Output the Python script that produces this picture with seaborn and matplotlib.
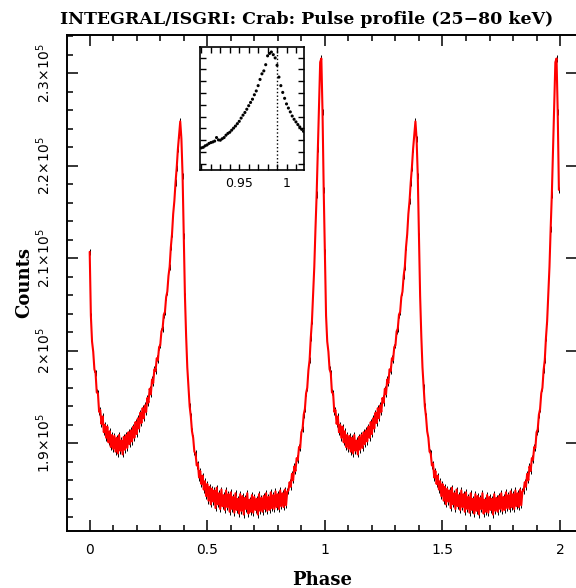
import numpy as np
import seaborn as sns
import matplotlib.pyplot as plt
from matplotlib.ticker import MultipleLocator, FixedLocator, FixedFormatter


# one pulse cycle, 200 phase bins of 0.005, in units of 1000 counts
counts_cycle_k = [
    210.7, 203.8, 201.0, 199.9, 198.0, 197.6, 195.5, 195.4, 193.4, 193.6,
    192.1, 192.9, 191.2, 192.0, 190.6, 191.8, 190.1, 191.3, 189.6, 190.9,
    189.4, 190.8, 189.1, 190.6, 188.9, 190.9, 189.2, 190.3, 188.8, 190.7,
    189.3, 190.9, 189.5, 191.2, 189.9, 191.4, 190.2, 191.8, 190.6, 192.3,
    191.0, 192.7, 191.6, 193.3, 192.2, 193.8, 192.7, 194.1, 193.4, 194.9,
    194.4, 195.9, 195.3, 196.9, 196.5, 198.0, 197.8, 199.2, 199.0, 200.4,
    200.6, 202.1, 202.4, 203.9, 204.2, 205.8, 206.4, 208.1, 209.1, 211.2,
    212.6, 214.8, 216.2, 218.2, 219.8, 221.8, 223.3, 224.8, 222.9, 218.9,
    212.4, 205.9, 201.6, 198.2, 196.1, 194.0, 192.9, 191.3, 190.6, 189.1,
    188.9, 187.6, 187.8, 186.3, 187.0, 185.6, 186.5, 185.0, 185.9, 184.3,
    185.6, 183.8, 185.3, 183.4, 185.1, 183.7, 184.9, 183.0, 185.2, 183.4,
    184.6, 182.9, 185.0, 183.2, 184.4, 182.8, 184.9, 183.1, 184.5, 182.6,
    184.7, 182.9, 184.2, 182.5, 184.6, 182.8, 184.0, 182.4, 184.5, 182.7,
    184.3, 182.3, 184.1, 182.9, 184.6, 182.4, 183.9, 182.6, 184.4, 182.5,
    184.2, 182.8, 184.0, 182.3, 184.5, 182.7, 184.1, 182.6, 184.3, 182.9,
    184.6, 182.7, 184.2, 182.8, 184.7, 183.0, 184.4, 182.9, 184.8, 183.1,
    184.5, 182.9, 184.9, 183.2, 184.6, 183.1, 185.0, 183.3, 184.8, 184.9,
    185.8, 185.3, 186.7, 186.0, 187.5, 187.0, 188.4, 188.2, 189.6, 189.5,
    191.2, 191.5, 193.1, 193.7, 195.4, 196.0, 197.9, 199.0, 201.4, 203.2,
    206.2, 209.1, 213.2, 216.9, 221.8, 227.1, 231.2, 231.6, 225.8, 217.4,
]
bin_width = 0.005
n_cycles = 2
count_err = 330.0

# zoom on the main peak (inset), units of 1000 counts
inset_phase = [
    0.910, 0.912, 0.914, 0.916, 0.918, 0.920, 0.922, 0.924, 0.926, 0.928,
    0.930, 0.932, 0.934, 0.936, 0.938, 0.940, 0.942, 0.944, 0.946, 0.948,
    0.950, 0.952, 0.954, 0.956, 0.958, 0.960, 0.962, 0.964, 0.966, 0.968,
    0.970, 0.972, 0.974, 0.976, 0.978, 0.980, 0.982, 0.984, 0.986, 0.988,
    0.990, 0.992, 0.994, 0.996, 0.998, 1.000, 1.002, 1.004, 1.006, 1.008,
    1.010, 1.012, 1.014, 1.016, 1.018,
]
inset_counts_k = [
    201.4, 201.6, 202.1, 202.4, 202.9, 203.2, 203.4, 203.7, 204.9, 204.1,
    204.0, 204.5, 204.9, 205.7, 206.3, 206.7, 207.4, 208.1, 208.8, 209.6,
    210.4, 211.5, 212.5, 213.4, 214.5, 215.7, 216.8, 217.9, 219.4, 220.7,
    222.5, 224.6, 226.5, 227.5, 229.6, 232.6, 233.4, 233.9, 233.0, 231.9,
    229.4, 225.4, 222.5, 220.2, 218.2, 216.3, 214.9, 213.6, 212.2, 211.1,
    210.2, 209.3, 208.5, 207.7, 207.0,
]
radio_peak_phase = 0.99

ytick_values = [190000, 200000, 210000, 220000, 230000]
ytick_labels = [r'$1.9\!\times\!10^5$', r'$2\!\times\!10^5$', r'$2.1\!\times\!10^5$',
                r'$2.2\!\times\!10^5$', r'$2.3\!\times\!10^5$']
xtick_values = [0, 0.5, 1, 1.5, 2]
xtick_labels = ['0', '0.5', '1', '1.5', '2']


sns.set_style('ticks')
plt.rcParams['font.family'] = ['DejaVu Sans']
plt.rcParams['text.color'] = 'black'
plt.rcParams['axes.labelcolor'] = 'black'
plt.rcParams['xtick.color'] = 'black'
plt.rcParams['ytick.color'] = 'black'

counts = np.tile(np.array(counts_cycle_k) * 1000, n_cycles)
phase = np.arange(len(counts)) * bin_width

fig = plt.figure(figsize=(5.76, 5.88), dpi=100)
ax = fig.add_axes([67 / 576, 1 - 531 / 588, (577 - 67) / 576, (531 - 35) / 588])

# black error bars under the red profile
ax.errorbar(phase, counts, yerr=count_err, fmt='none', ecolor='black',
            elinewidth=0.7, zorder=1)
sns.lineplot(x=phase, y=counts, color='red', linewidth=1.5, ax=ax, zorder=2)

ax.set_xlim(-0.0965, 2.072)
ax.set_ylim(180520, 234140)
ax.xaxis.set_major_locator(FixedLocator(xtick_values))
ax.xaxis.set_major_formatter(FixedFormatter(xtick_labels))
ax.xaxis.set_minor_locator(MultipleLocator(0.1))
ax.yaxis.set_major_locator(FixedLocator(ytick_values))
ax.yaxis.set_major_formatter(FixedFormatter(ytick_labels))
ax.yaxis.set_minor_locator(MultipleLocator(2000))

ax.tick_params(which='both', direction='in', top=True, right=True, width=1.1)
ax.tick_params(which='major', length=8)
ax.tick_params(which='minor', length=4)
ax.tick_params(axis='y', which='minor', right=False)
ax.tick_params(axis='x', which='major', labelsize=10, pad=9)
ax.tick_params(axis='y', which='major', labelsize=10, pad=10)
for lab in ax.get_yticklabels():
    lab.set_rotation(90)
    lab.set_va('center')
for sp in ax.spines.values():
    sp.set_linewidth(1.4)
    sp.set_color('black')

ax.set_xlabel('Phase', fontfamily='DejaVu Serif', fontweight='bold',
              fontsize=13, labelpad=10)
ax.set_ylabel('Counts', fontfamily='DejaVu Serif', fontweight='bold',
              fontsize=13, labelpad=1)
fig.text(60 / 576, 1 - 19 / 588, 'INTEGRAL/ISGRI: Crab: Pulse profile (25\u221280 keV)',
         fontfamily='DejaVu Serif', fontweight='bold', fontsize=12.5,
         ha='left', va='center', color='black')

# inset
axi = fig.add_axes([200 / 576, 1 - 170 / 588, 104 / 576, 123 / 588])
sns.scatterplot(x=inset_phase, y=np.array(inset_counts_k) * 1000, color='black',
                s=5, edgecolor='none', ax=axi)
axi.axvline(radio_peak_phase, color='black', linestyle=':', linewidth=1)
axi.set_xlim(0.9085, 1.0185)
axi.set_ylim(193900, 235600)
axi.xaxis.set_major_locator(FixedLocator([0.95, 1.0]))
axi.xaxis.set_major_formatter(FixedFormatter(['0.95', '1']))
axi.xaxis.set_minor_locator(MultipleLocator(0.01))
axi.yaxis.set_major_locator(MultipleLocator(4000))
axi.yaxis.set_major_formatter(FixedFormatter([]))
axi.tick_params(which='both', direction='in', top=True, right=True, width=1,
                length=4)
axi.tick_params(axis='x', labelsize=9, pad=5)
axi.tick_params(axis='y', labelleft=False)
for sp in axi.spines.values():
    sp.set_linewidth(1.2)
    sp.set_color('black')
axi.set_xlabel('')
axi.set_ylabel('')

fig.savefig('out.png', dpi=100)
